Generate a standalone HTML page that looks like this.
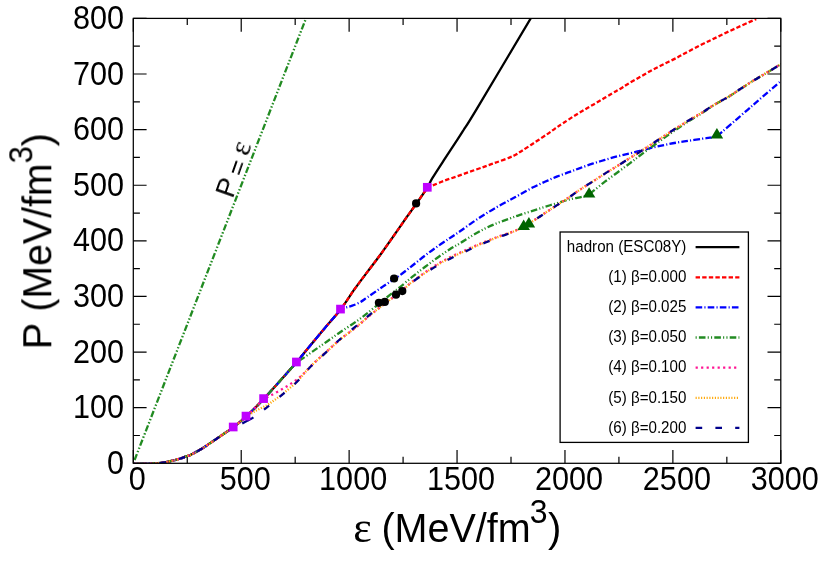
<!DOCTYPE html>
<html><head><meta charset="utf-8"><title>EOS</title>
<style>
html,body{margin:0;padding:0;background:#fff;}
body{width:830px;height:562px;position:relative;overflow:hidden;font-family:"Liberation Sans",sans-serif;}
svg text{font-family:"Liberation Sans",sans-serif;fill:#000;}
</style></head><body>
<svg width="830" height="562" viewBox="0 0 830 562" style="position:absolute;left:0;top:0;will-change:transform">
<defs><clipPath id="cp"><rect x="133.30" y="18.40" width="647.50" height="444.90"/></clipPath></defs>
<path d="M133.30 463.30v-13.30M133.30 18.40v13.30M187.26 463.30v-6.60M187.26 18.40v6.60M241.22 463.30v-13.30M241.22 18.40v13.30M295.18 463.30v-6.60M295.18 18.40v6.60M349.13 463.30v-13.30M349.13 18.40v13.30M403.09 463.30v-6.60M403.09 18.40v6.60M457.05 463.30v-13.30M457.05 18.40v13.30M511.01 463.30v-6.60M511.01 18.40v6.60M564.97 463.30v-13.30M564.97 18.40v13.30M618.92 463.30v-6.60M618.92 18.40v6.60M672.88 463.30v-13.30M672.88 18.40v13.30M726.84 463.30v-6.60M726.84 18.40v6.60M780.80 463.30v-13.30M780.80 18.40v13.30M133.30 463.30h13.30M780.80 463.30h-13.30M133.30 435.49h6.60M780.80 435.49h-6.60M133.30 407.69h13.30M780.80 407.69h-13.30M133.30 379.88h6.60M780.80 379.88h-6.60M133.30 352.07h13.30M780.80 352.07h-13.30M133.30 324.27h6.60M780.80 324.27h-6.60M133.30 296.46h13.30M780.80 296.46h-13.30M133.30 268.66h6.60M780.80 268.66h-6.60M133.30 240.85h13.30M780.80 240.85h-13.30M133.30 213.04h6.60M780.80 213.04h-6.60M133.30 185.24h13.30M780.80 185.24h-13.30M133.30 157.43h6.60M780.80 157.43h-6.60M133.30 129.62h13.30M780.80 129.62h-13.30M133.30 101.82h6.60M780.80 101.82h-6.60M133.30 74.01h13.30M780.80 74.01h-13.30M133.30 46.21h6.60M780.80 46.21h-6.60M133.30 18.40h13.30M780.80 18.40h-13.30" stroke="#000" stroke-width="1.20" fill="none"/>
<g clip-path="url(#cp)">
<path d="M133.30 463.30L305.97 18.40" stroke="#228b22" stroke-width="2.3" fill="none" stroke-dasharray="1.5 2 6.4 2 1.5 2"/>
<g transform="translate(0 0.7)">
<path d="M133.30 463.30C135.25 463.28 141.33 463.28 145.00 463.20C148.67 463.12 151.97 463.05 155.30 462.80C158.63 462.55 162.12 462.17 165.00 461.70C167.88 461.23 170.00 460.65 172.60 460.00C175.20 459.35 178.17 458.58 180.60 457.80C183.03 457.02 185.63 455.85 187.20 455.30C188.77 454.75 187.45 455.78 190.00 454.50C192.55 453.22 198.35 450.15 202.50 447.60C206.65 445.05 210.75 442.02 214.90 439.20C219.05 436.38 224.37 432.75 227.40 430.70C230.43 428.65 230.02 429.35 233.10 426.90C236.18 424.45 240.83 420.73 245.90 416.00C250.97 411.27 255.10 407.52 263.50 398.50C271.90 389.48 289.80 369.28 296.30 361.90C302.80 354.52 299.40 357.98 302.50 354.20C305.60 350.42 310.75 344.18 314.90 339.20C319.05 334.22 323.15 329.33 327.40 324.30C331.65 319.27 335.82 315.05 340.40 309.00C344.98 302.95 350.40 294.30 354.90 288.00C359.40 281.70 363.25 276.73 367.40 271.20C371.55 265.67 375.22 261.08 379.80 254.80C384.38 248.52 390.30 240.05 394.90 233.50C399.50 226.95 403.87 220.53 407.40 215.50C410.93 210.47 412.80 208.02 416.10 203.30C419.40 198.58 424.47 191.55 427.20 187.20C429.93 182.85 429.55 182.08 432.50 177.20C435.45 172.32 440.75 164.27 444.90 157.90C449.05 151.53 454.28 143.77 457.40 139.00C460.52 134.23 460.42 134.37 463.60 129.30C466.78 124.23 465.32 127.20 476.50 108.60C487.68 90.00 521.67 32.85 530.70 17.70" stroke="#000000" stroke-width="2.30" fill="none" stroke-linejoin="round"/>
<path d="M133.30 463.30C135.25 463.28 141.33 463.28 145.00 463.20C148.67 463.12 151.97 463.05 155.30 462.80C158.63 462.55 162.12 462.17 165.00 461.70C167.88 461.23 170.00 460.65 172.60 460.00C175.20 459.35 178.17 458.58 180.60 457.80C183.03 457.02 185.63 455.85 187.20 455.30C188.77 454.75 187.45 455.78 190.00 454.50C192.55 453.22 198.35 450.15 202.50 447.60C206.65 445.05 210.75 442.02 214.90 439.20C219.05 436.38 224.37 432.75 227.40 430.70C230.43 428.65 230.02 429.35 233.10 426.90C236.18 424.45 240.83 420.73 245.90 416.00C250.97 411.27 255.10 407.52 263.50 398.50C271.90 389.48 289.80 369.28 296.30 361.90C302.80 354.52 299.40 357.98 302.50 354.20C305.60 350.42 310.75 344.18 314.90 339.20C319.05 334.22 323.15 329.33 327.40 324.30C331.65 319.27 335.82 315.05 340.40 309.00C344.98 302.95 350.40 294.30 354.90 288.00C359.40 281.70 363.25 276.73 367.40 271.20C371.55 265.67 375.22 261.08 379.80 254.80C384.38 248.52 390.30 240.05 394.90 233.50C399.50 226.95 403.87 220.53 407.40 215.50C410.93 210.47 412.80 208.02 416.10 203.30C419.40 198.58 425.35 189.88 427.20 187.20C428.08 186.80 429.55 186.03 432.50 184.80C435.45 183.57 440.75 181.35 444.90 179.80C449.05 178.25 453.25 176.95 457.40 175.50C461.55 174.05 465.65 172.57 469.80 171.10C473.95 169.63 478.93 167.90 482.30 166.70C485.67 165.50 487.47 164.80 490.00 163.90C492.53 163.00 494.18 162.50 497.50 161.30C500.82 160.10 506.80 157.95 509.90 156.70C513.00 155.45 514.02 154.95 516.10 153.80C518.18 152.65 519.28 151.82 522.40 149.80C525.52 147.78 530.65 144.43 534.80 141.70C538.95 138.97 543.93 135.70 547.30 133.40C550.67 131.10 552.47 129.65 555.00 127.90C557.53 126.15 559.18 125.08 562.50 122.90C565.82 120.72 570.75 117.40 574.90 114.80C579.05 112.20 583.25 109.75 587.40 107.30C591.55 104.85 595.65 102.55 599.80 100.10C603.95 97.65 608.93 94.58 612.30 92.60C615.67 90.62 617.47 89.72 620.00 88.20C622.53 86.68 624.18 85.48 627.50 83.50C630.82 81.52 635.75 78.68 639.90 76.30C644.05 73.92 648.25 71.42 652.40 69.20C656.55 66.98 660.65 65.07 664.80 63.00C668.95 60.93 673.93 58.53 677.30 56.80C680.67 55.07 681.22 54.63 685.00 52.60C688.78 50.57 695.42 46.93 700.00 44.60C704.58 42.27 708.35 40.60 712.50 38.60C716.65 36.60 720.75 34.57 724.90 32.60C729.05 30.63 733.25 28.70 737.40 26.80C741.55 24.90 746.67 22.60 749.80 21.20C752.93 19.80 755.13 18.87 756.20 18.40" stroke="#ff0000" stroke-width="2.30" fill="none" stroke-linejoin="round" stroke-dasharray="4.4 2.2" stroke-dashoffset="4.4"/>
<path d="M133.30 463.30C135.25 463.28 141.33 463.28 145.00 463.20C148.67 463.12 151.97 463.05 155.30 462.80C158.63 462.55 162.12 462.17 165.00 461.70C167.88 461.23 170.00 460.65 172.60 460.00C175.20 459.35 178.17 458.58 180.60 457.80C183.03 457.02 185.63 455.85 187.20 455.30C188.77 454.75 187.45 455.78 190.00 454.50C192.55 453.22 198.35 450.15 202.50 447.60C206.65 445.05 210.75 442.02 214.90 439.20C219.05 436.38 224.37 432.75 227.40 430.70C230.43 428.65 230.02 429.35 233.10 426.90C236.18 424.45 240.83 420.73 245.90 416.00C250.97 411.27 255.10 407.52 263.50 398.50C271.90 389.48 289.80 369.28 296.30 361.90C302.80 354.52 299.40 357.98 302.50 354.20C305.60 350.42 310.75 344.18 314.90 339.20C319.05 334.22 323.15 329.33 327.40 324.30C331.65 319.27 338.23 311.55 340.40 309.00C341.33 308.63 344.02 307.47 346.00 306.80C347.98 306.13 349.97 305.87 352.30 305.00C354.63 304.13 357.48 303.00 360.00 301.60C362.52 300.20 364.10 298.87 367.40 296.60C370.70 294.33 375.35 291.03 379.80 288.00C384.25 284.97 390.73 280.65 394.10 278.40C397.47 276.15 396.93 276.77 400.00 274.50C403.07 272.23 408.35 268.05 412.50 264.80C416.65 261.55 420.75 258.17 424.90 255.00C429.05 251.83 433.25 248.73 437.40 245.80C441.55 242.87 446.03 239.93 449.80 237.40C453.57 234.87 456.22 233.22 460.00 230.60C463.78 227.98 468.35 224.53 472.50 221.70C476.65 218.87 480.75 216.20 484.90 213.60C489.05 211.00 493.25 208.48 497.40 206.10C501.55 203.72 506.03 201.35 509.80 199.30C513.57 197.25 516.22 195.87 520.00 193.80C523.78 191.73 528.35 189.02 532.50 186.90C536.65 184.78 540.75 182.97 544.90 181.10C549.05 179.23 553.25 177.35 557.40 175.70C561.55 174.05 566.03 172.58 569.80 171.20C573.57 169.82 576.22 168.77 580.00 167.40C583.78 166.03 588.35 164.37 592.50 163.00C596.65 161.63 600.75 160.43 604.90 159.20C609.05 157.97 613.25 156.70 617.40 155.60C621.55 154.50 626.03 153.52 629.80 152.60C633.57 151.68 636.22 151.05 640.00 150.10C643.78 149.15 648.35 147.88 652.50 146.90C656.65 145.92 660.75 145.05 664.90 144.20C669.05 143.35 673.25 142.52 677.40 141.80C681.55 141.08 685.65 140.53 689.80 139.90C693.95 139.27 698.95 138.48 702.30 138.00C705.65 137.52 707.47 137.40 709.90 137.00C712.33 136.60 715.73 135.83 716.90 135.60C717.82 134.82 719.42 133.47 722.40 130.90C725.38 128.33 730.65 123.78 734.80 120.20C738.95 116.62 743.93 112.32 747.30 109.40C750.67 106.48 752.08 105.23 755.00 102.70C757.92 100.17 761.08 97.42 764.80 94.20C768.52 90.98 774.63 85.73 777.30 83.40C779.97 81.07 780.22 80.73 780.80 80.20" stroke="#0000ff" stroke-width="2.30" fill="none" stroke-linejoin="round" stroke-dasharray="6.6 2.2 1.1 2.2"/>
<path d="M133.30 463.30C135.25 463.28 141.33 463.28 145.00 463.20C148.67 463.12 151.97 463.05 155.30 462.80C158.63 462.55 162.12 462.17 165.00 461.70C167.88 461.23 170.00 460.65 172.60 460.00C175.20 459.35 178.17 458.58 180.60 457.80C183.03 457.02 185.63 455.85 187.20 455.30C188.77 454.75 187.45 455.78 190.00 454.50C192.55 453.22 198.35 450.15 202.50 447.60C206.65 445.05 210.75 442.02 214.90 439.20C219.05 436.38 224.37 432.75 227.40 430.70C230.43 428.65 230.02 429.35 233.10 426.90C236.18 424.45 240.83 420.73 245.90 416.00C250.97 411.27 255.10 407.52 263.50 398.50C271.90 389.48 290.83 368.00 296.30 361.90C297.33 361.23 299.40 360.02 302.50 357.90C305.60 355.78 310.75 352.10 314.90 349.20C319.05 346.30 323.25 343.40 327.40 340.50C331.55 337.60 335.65 334.63 339.80 331.80C343.95 328.97 348.93 325.78 352.30 323.50C355.67 321.22 357.48 319.95 360.00 318.10C362.52 316.25 364.10 315.02 367.40 312.40C370.70 309.78 375.65 305.75 379.80 302.40C383.95 299.05 388.93 294.97 392.30 292.30C395.67 289.63 396.63 289.12 400.00 286.40C403.37 283.68 408.35 279.35 412.50 276.00C416.65 272.65 420.75 269.47 424.90 266.30C429.05 263.13 433.25 259.95 437.40 257.00C441.55 254.05 446.03 251.00 449.80 248.60C453.57 246.20 456.22 244.90 460.00 242.60C463.78 240.30 468.35 237.25 472.50 234.80C476.65 232.35 480.75 229.98 484.90 227.90C489.05 225.82 493.25 223.98 497.40 222.30C501.55 220.62 506.03 219.17 509.80 217.80C513.57 216.43 516.22 215.37 520.00 214.10C523.78 212.83 528.35 211.52 532.50 210.20C536.65 208.88 540.75 207.52 544.90 206.20C549.05 204.88 553.25 203.55 557.40 202.30C561.55 201.05 565.65 199.75 569.80 198.70C573.95 197.65 579.08 196.78 582.30 196.00C585.52 195.22 587.97 194.33 589.10 194.00C589.87 193.33 591.07 192.17 593.70 190.00C596.33 187.83 600.95 184.03 604.90 181.00C608.85 177.97 613.25 174.87 617.40 171.80C621.55 168.73 626.03 165.43 629.80 162.60C633.57 159.77 636.22 157.63 640.00 154.80C643.78 151.97 648.35 148.62 652.50 145.60C656.65 142.58 660.75 139.63 664.90 136.70C669.05 133.77 673.25 130.80 677.40 128.00C681.55 125.20 685.65 122.53 689.80 119.90C693.95 117.27 698.10 114.88 702.30 112.20C706.50 109.52 710.80 106.37 715.00 103.80C719.20 101.23 723.35 99.32 727.50 96.80C731.65 94.28 735.75 91.40 739.90 88.70C744.05 86.00 748.25 83.18 752.40 80.60C756.55 78.02 760.65 75.68 764.80 73.20C768.95 70.72 774.63 67.35 777.30 65.70C779.97 64.05 780.22 63.70 780.80 63.30" stroke="#228b22" stroke-width="2.30" fill="none" stroke-linejoin="round" stroke-dasharray="1.1 2.2 6.6 2.2 1.1 2.2"/>
<path d="M133.30 463.30C135.25 463.28 141.33 463.28 145.00 463.20C148.67 463.12 151.97 463.05 155.30 462.80C158.63 462.55 162.12 462.17 165.00 461.70C167.88 461.23 170.00 460.65 172.60 460.00C175.20 459.35 178.17 458.58 180.60 457.80C183.03 457.02 185.63 455.85 187.20 455.30C188.77 454.75 187.45 455.78 190.00 454.50C192.55 453.22 198.35 450.15 202.50 447.60C206.65 445.05 210.75 442.02 214.90 439.20C219.05 436.38 224.37 432.75 227.40 430.70C230.43 428.65 230.02 429.35 233.10 426.90C236.18 424.45 240.83 420.73 245.90 416.00C250.97 411.27 260.57 401.42 263.50 398.50C264.85 397.80 268.62 395.90 271.60 394.30C274.58 392.70 278.28 390.72 281.40 388.90C284.52 387.08 287.33 385.38 290.30 383.40C293.27 381.42 296.75 378.97 299.20 377.00C301.65 375.03 302.38 374.18 305.00 371.60C307.62 369.02 311.17 365.07 314.90 361.50C318.63 357.93 323.25 353.95 327.40 350.20C331.55 346.45 335.65 342.45 339.80 339.00C343.95 335.55 348.93 332.10 352.30 329.50C355.67 326.89 357.48 325.49 360.00 323.37C362.52 321.24 364.10 319.50 367.40 316.74C370.70 313.97 375.65 310.02 379.80 306.78C383.95 303.55 388.93 299.86 392.30 297.33C395.67 294.80 397.68 293.46 400.00 291.60C402.32 289.74 404.12 287.99 406.20 286.19C408.28 284.39 409.38 283.17 412.50 280.78C415.62 278.39 420.75 274.73 424.90 271.86C429.05 268.98 433.25 266.07 437.40 263.54C441.55 261.00 445.65 258.74 449.80 256.64C453.95 254.54 458.93 252.48 462.30 250.94C465.67 249.40 467.27 248.62 470.00 247.40C472.73 246.19 476.22 244.72 478.70 243.68C481.18 242.63 481.78 242.37 484.90 241.13C488.02 239.89 493.25 237.73 497.40 236.23C501.55 234.72 506.28 233.36 509.80 232.10C513.32 230.83 516.20 229.64 518.50 228.62C520.80 227.61 522.75 226.44 523.60 226.00C525.00 225.15 529.07 222.73 532.00 220.90C534.93 219.07 539.05 216.42 541.20 215.00C543.35 213.58 542.20 214.20 544.90 212.40C547.60 210.60 553.25 206.92 557.40 204.20C561.55 201.48 566.03 198.65 569.80 196.10C573.57 193.55 576.22 191.42 580.00 188.90C583.78 186.38 588.35 183.67 592.50 181.00C596.65 178.33 600.75 175.52 604.90 172.90C609.05 170.28 613.25 167.88 617.40 165.30C621.55 162.72 626.03 159.77 629.80 157.40C633.57 155.03 636.22 153.52 640.00 151.10C643.78 148.68 648.35 145.62 652.50 142.90C656.65 140.18 660.75 137.50 664.90 134.80C669.05 132.10 673.25 129.32 677.40 126.70C681.55 124.08 685.65 121.60 689.80 119.10C693.95 116.60 698.10 114.28 702.30 111.70C706.50 109.12 710.80 106.12 715.00 103.60C719.20 101.08 723.35 99.10 727.50 96.60C731.65 94.10 735.75 91.28 739.90 88.60C744.05 85.92 748.25 83.08 752.40 80.50C756.55 77.92 760.65 75.58 764.80 73.10C768.95 70.62 774.63 67.25 777.30 65.60C779.97 63.95 780.22 63.60 780.80 63.20" stroke="#ff1493" stroke-width="2.30" fill="none" stroke-linejoin="round" stroke-dasharray="2.2 3.3"/>
<path d="M133.30 463.30C135.25 463.28 141.33 463.28 145.00 463.20C148.67 463.12 151.97 463.05 155.30 462.80C158.63 462.55 162.12 462.17 165.00 461.70C167.88 461.23 170.00 460.65 172.60 460.00C175.20 459.35 178.17 458.58 180.60 457.80C183.03 457.02 185.63 455.85 187.20 455.30C188.77 454.75 187.45 455.78 190.00 454.50C192.55 453.22 198.35 450.15 202.50 447.60C206.65 445.05 210.75 442.02 214.90 439.20C219.05 436.38 224.37 432.75 227.40 430.70C230.43 428.65 230.02 429.35 233.10 426.90C236.18 424.45 243.77 417.82 245.90 416.00C247.52 415.03 252.15 412.08 255.60 410.20C259.05 408.32 263.37 406.57 266.60 404.70C269.83 402.83 272.23 400.98 275.00 399.00C277.77 397.02 279.62 395.75 283.20 392.80C286.78 389.85 292.47 385.27 296.50 381.30C300.53 377.33 304.33 372.30 307.40 369.00C310.47 365.70 311.57 364.62 314.90 361.50C318.23 358.38 323.25 354.03 327.40 350.30C331.55 346.57 335.65 342.60 339.80 339.10C343.95 335.60 348.93 331.95 352.30 329.30C355.67 326.65 357.48 325.32 360.00 323.20C362.52 321.08 364.10 319.35 367.40 316.60C370.70 313.85 375.65 309.92 379.80 306.70C383.95 303.48 388.93 299.82 392.30 297.30C395.67 294.78 397.68 293.43 400.00 291.60C402.32 289.77 404.12 288.07 406.20 286.30C408.28 284.53 409.38 283.33 412.50 281.00C415.62 278.67 420.75 275.10 424.90 272.30C429.05 269.50 433.25 266.68 437.40 264.20C441.55 261.72 445.65 259.50 449.80 257.40C453.95 255.30 458.93 253.17 462.30 251.60C465.67 250.03 467.27 249.23 470.00 248.00C472.73 246.77 476.22 245.27 478.70 244.20C481.18 243.13 481.78 242.87 484.90 241.60C488.02 240.33 493.25 238.15 497.40 236.60C501.55 235.05 506.28 233.62 509.80 232.30C513.32 230.98 516.20 229.75 518.50 228.70C520.80 227.65 522.75 226.45 523.60 226.00C525.00 225.15 529.07 222.73 532.00 220.90C534.93 219.07 539.05 216.42 541.20 215.00C543.35 213.58 542.20 214.20 544.90 212.40C547.60 210.60 553.25 206.92 557.40 204.20C561.55 201.48 566.03 198.65 569.80 196.10C573.57 193.55 576.22 191.42 580.00 188.90C583.78 186.38 588.35 183.67 592.50 181.00C596.65 178.33 600.75 175.52 604.90 172.90C609.05 170.28 613.25 167.88 617.40 165.30C621.55 162.72 626.03 159.77 629.80 157.40C633.57 155.03 636.22 153.52 640.00 151.10C643.78 148.68 648.35 145.62 652.50 142.90C656.65 140.18 660.75 137.50 664.90 134.80C669.05 132.10 673.25 129.32 677.40 126.70C681.55 124.08 685.65 121.60 689.80 119.10C693.95 116.60 698.10 114.28 702.30 111.70C706.50 109.12 710.80 106.12 715.00 103.60C719.20 101.08 723.35 99.10 727.50 96.60C731.65 94.10 735.75 91.28 739.90 88.60C744.05 85.92 748.25 83.08 752.40 80.50C756.55 77.92 760.65 75.58 764.80 73.10C768.95 70.62 774.63 67.25 777.30 65.60C779.97 63.95 780.22 63.60 780.80 63.20" stroke="#ffa500" stroke-width="2.30" fill="none" stroke-linejoin="round" stroke-dasharray="1.1 1.65"/>
<path d="M133.30 463.30C135.25 463.28 141.33 463.28 145.00 463.20C148.67 463.12 151.97 463.05 155.30 462.80C158.63 462.55 162.12 462.17 165.00 461.70C167.88 461.23 170.00 460.65 172.60 460.00C175.20 459.35 178.17 458.58 180.60 457.80C183.03 457.02 185.63 455.85 187.20 455.30C188.77 454.75 187.45 455.78 190.00 454.50C192.55 453.22 198.35 450.15 202.50 447.60C206.65 445.05 210.75 442.02 214.90 439.20C219.05 436.38 224.37 432.75 227.40 430.70C230.43 428.65 232.15 427.53 233.10 426.90C234.63 426.25 239.58 424.33 242.30 423.00C245.02 421.67 247.53 419.97 249.40 418.90C251.27 417.83 250.63 418.60 253.50 416.60C256.37 414.60 261.65 410.80 266.60 406.90C271.55 403.00 278.22 397.42 283.20 393.20C288.18 388.98 292.47 385.58 296.50 381.60C300.53 377.62 304.33 372.60 307.40 369.30C310.47 366.00 311.57 364.95 314.90 361.80C318.23 358.65 323.25 354.23 327.40 350.40C331.55 346.57 335.65 342.47 339.80 338.80C343.95 335.13 348.93 331.14 352.30 328.40C355.67 325.67 357.48 324.48 360.00 322.39C362.52 320.30 364.10 318.58 367.40 315.87C370.70 313.15 375.65 309.23 379.80 306.10C383.95 302.97 388.93 299.49 392.30 297.07C395.67 294.65 397.68 293.38 400.00 291.60C402.32 289.82 404.12 288.14 406.20 286.41C408.28 284.68 409.38 283.50 412.50 281.22C415.62 278.94 420.75 275.47 424.90 272.74C429.05 270.02 433.25 267.30 437.40 264.86C441.55 262.43 445.65 260.26 449.80 258.16C453.95 256.06 458.93 253.85 462.30 252.26C465.67 250.66 467.27 249.85 470.00 248.60C472.73 247.34 476.22 245.81 478.70 244.72C481.18 243.64 481.78 243.37 484.90 242.07C488.02 240.78 493.25 238.57 497.40 236.97C501.55 235.38 506.28 233.87 509.80 232.50C513.32 231.14 516.20 229.86 518.50 228.78C520.80 227.69 522.75 226.46 523.60 226.00C525.00 225.15 529.07 222.73 532.00 220.90C534.93 219.07 539.05 216.42 541.20 215.00C543.35 213.58 542.20 214.20 544.90 212.40C547.60 210.60 553.25 206.92 557.40 204.20C561.55 201.48 566.03 198.65 569.80 196.10C573.57 193.55 576.22 191.42 580.00 188.90C583.78 186.38 588.35 183.67 592.50 181.00C596.65 178.33 600.75 175.52 604.90 172.90C609.05 170.28 613.25 167.88 617.40 165.30C621.55 162.72 626.03 159.77 629.80 157.40C633.57 155.03 636.22 153.52 640.00 151.10C643.78 148.68 648.35 145.62 652.50 142.90C656.65 140.18 660.75 137.50 664.90 134.80C669.05 132.10 673.25 129.32 677.40 126.70C681.55 124.08 685.65 121.60 689.80 119.10C693.95 116.60 698.10 114.28 702.30 111.70C706.50 109.12 710.80 106.12 715.00 103.60C719.20 101.08 723.35 99.10 727.50 96.60C731.65 94.10 735.75 91.28 739.90 88.60C744.05 85.92 748.25 83.08 752.40 80.50C756.55 77.92 760.65 75.58 764.80 73.10C768.95 70.62 774.63 67.25 777.30 65.60C779.97 63.95 780.22 63.60 780.80 63.20" stroke="#00008b" stroke-width="2.30" fill="none" stroke-linejoin="round" stroke-dasharray="6.6 13.2" stroke-dashoffset="13.3"/>
<path d="M242.2 422.9L249.4 418.8" stroke="#00008b" stroke-width="2.30" fill="none"/>
</g>
</g>
<rect x="133.30" y="18.40" width="647.50" height="444.90" fill="none" stroke="#000" stroke-width="1.25"/>
<rect x="228.85" y="422.65" width="8.7" height="8.7" fill="#bf00ff"/>
<rect x="241.65" y="411.75" width="8.7" height="8.7" fill="#bf00ff"/>
<rect x="259.25" y="394.25" width="8.7" height="8.7" fill="#bf00ff"/>
<rect x="292.05" y="357.65" width="8.7" height="8.7" fill="#bf00ff"/>
<rect x="336.15" y="304.75" width="8.7" height="8.7" fill="#bf00ff"/>
<rect x="422.95" y="182.95" width="8.7" height="8.7" fill="#bf00ff"/>
<circle cx="416.10" cy="203.40" r="4.1" fill="#000"/>
<circle cx="394.10" cy="278.50" r="4.1" fill="#000"/>
<circle cx="378.90" cy="302.80" r="4.1" fill="#000"/>
<circle cx="384.80" cy="301.90" r="4.1" fill="#000"/>
<circle cx="396.00" cy="294.70" r="4.1" fill="#000"/>
<circle cx="402.30" cy="291.10" r="4.1" fill="#000"/>
<path d="M523.70 219.50L529.95 229.90L517.45 229.90Z" fill="#006400"/>
<path d="M528.90 217.00L535.15 227.40L522.65 227.40Z" fill="#006400"/>
<path d="M589.10 187.20L595.35 197.50L582.85 197.50Z" fill="#006400"/>
<path d="M716.90 128.00L723.15 138.60L710.65 138.60Z" fill="#006400"/>
<rect x="560.10" y="232.00" width="188.30" height="210.40" fill="#fff" stroke="#000" stroke-width="1.3"/>
<path d="M695.6 247.20H739.4" stroke="#000000" stroke-width="2.30" fill="none"/>
<text transform="translate(686.4 251.90) scale(1 1.06)" text-anchor="end" font-size="15.15">hadron (ESC08Y)</text>
<path d="M695.6 277.30H739.4" stroke="#ff0000" stroke-width="2.30" fill="none" stroke-dasharray="4.4 2.2"/>
<text transform="translate(686.4 282.00) scale(1 1.06)" text-anchor="end" font-size="15.15">(1) β=0.000</text>
<path d="M695.6 307.40H739.4" stroke="#0000ff" stroke-width="2.30" fill="none" stroke-dasharray="6.6 2.2 1.1 2.2"/>
<text transform="translate(686.4 312.10) scale(1 1.06)" text-anchor="end" font-size="15.15">(2) β=0.025</text>
<path d="M695.6 337.50H739.4" stroke="#228b22" stroke-width="2.30" fill="none" stroke-dasharray="1.1 2.2 6.6 2.2 1.1 2.2"/>
<text transform="translate(686.4 342.20) scale(1 1.06)" text-anchor="end" font-size="15.15">(3) β=0.050</text>
<path d="M695.6 367.70H739.4" stroke="#ff1493" stroke-width="2.30" fill="none" stroke-dasharray="2.2 3.3"/>
<text transform="translate(686.4 372.40) scale(1 1.06)" text-anchor="end" font-size="15.15">(4) β=0.100</text>
<path d="M695.6 397.80H739.4" stroke="#ffa500" stroke-width="2.30" fill="none" stroke-dasharray="1.1 1.65"/>
<text transform="translate(686.4 402.50) scale(1 1.06)" text-anchor="end" font-size="15.15">(5) β=0.150</text>
<path d="M695.6 427.90H739.4" stroke="#00008b" stroke-width="2.30" fill="none" stroke-dasharray="6.6 13.2"/>
<text transform="translate(686.4 432.60) scale(1 1.06)" text-anchor="end" font-size="15.15">(6) β=0.200</text>
<text transform="translate(137.30 490.0) scale(1 1.065)" text-anchor="middle" font-size="30.6">0</text>
<text transform="translate(245.22 490.0) scale(1 1.065)" text-anchor="middle" font-size="30.6">500</text>
<text transform="translate(353.13 490.0) scale(1 1.065)" text-anchor="middle" font-size="30.6">1000</text>
<text transform="translate(461.05 490.0) scale(1 1.065)" text-anchor="middle" font-size="30.6">1500</text>
<text transform="translate(568.97 490.0) scale(1 1.065)" text-anchor="middle" font-size="30.6">2000</text>
<text transform="translate(676.88 490.0) scale(1 1.065)" text-anchor="middle" font-size="30.6">2500</text>
<text transform="translate(784.80 490.0) scale(1 1.065)" text-anchor="middle" font-size="30.6">3000</text>
<text transform="translate(124.1 473.90) scale(1 1.065)" text-anchor="end" font-size="30.6">0</text>
<text transform="translate(124.1 418.29) scale(1 1.065)" text-anchor="end" font-size="30.6">100</text>
<text transform="translate(124.1 362.68) scale(1 1.065)" text-anchor="end" font-size="30.6">200</text>
<text transform="translate(124.1 307.06) scale(1 1.065)" text-anchor="end" font-size="30.6">300</text>
<text transform="translate(124.1 251.45) scale(1 1.065)" text-anchor="end" font-size="30.6">400</text>
<text transform="translate(124.1 195.84) scale(1 1.065)" text-anchor="end" font-size="30.6">500</text>
<text transform="translate(124.1 140.22) scale(1 1.065)" text-anchor="end" font-size="30.6">600</text>
<text transform="translate(124.1 84.61) scale(1 1.065)" text-anchor="end" font-size="30.6">700</text>
<text transform="translate(124.1 29.00) scale(1 1.065)" text-anchor="end" font-size="30.6">800</text>
<text x="353.30" y="542.00" font-size="44.0" style="font-family:'Liberation Serif',serif">ε</text>
<text transform="translate(381.40 542.00) scale(0.9880 1)" font-size="40">(MeV/fm</text>
<text transform="translate(529.80 523.20) scale(1 1.035)" font-size="32.0">3</text>
<text x="548.00" y="542.00" font-size="40">)</text>
<g transform="translate(51.30 349.40) rotate(-90)">
<text x="0" y="0" font-size="40">P</text>
<text transform="translate(37.80 0) scale(0.981 1)" font-size="40">(MeV/fm</text>
<text transform="translate(185.90 -18.8) scale(1 1.065)" font-size="31">3</text>
<text x="202.90" y="0" font-size="40">)</text>
</g>
<text transform="translate(232.7 199.2) rotate(-70.5)" font-size="27.5" word-spacing="-2">P <tspan dy="1.7" dx="0.3" font-size="25.5">=</tspan> <tspan dy="-1.7" dx="0.5" style="font-family:'Liberation Serif',serif" font-size="30">ε</tspan></text>
</svg>
</body></html>
